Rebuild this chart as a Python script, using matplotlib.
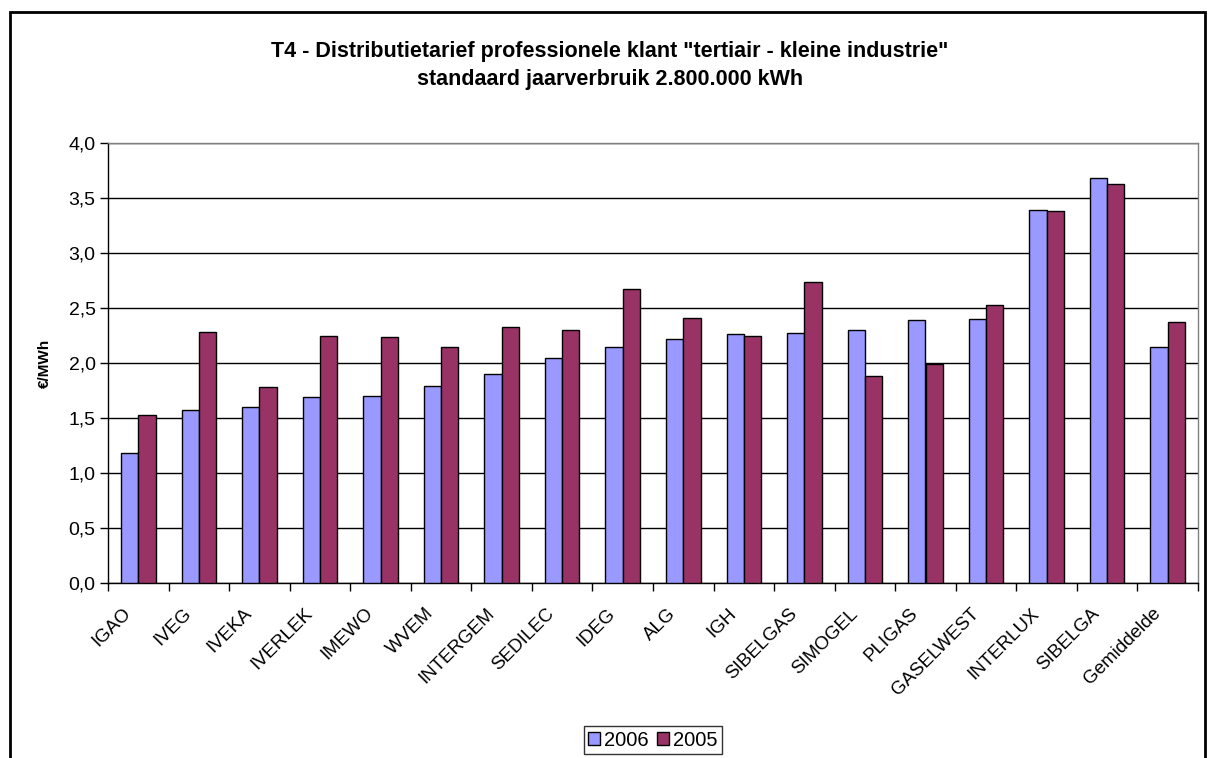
import numpy as np
import matplotlib.pyplot as plt
import matplotlib.transforms as mtransforms
from matplotlib.patches import Rectangle

plt.rcParams['font.family'] = ['Liberation Sans', 'DejaVu Sans']

# data (EUR/MWh)
categories = ["IGAO", "IVEG", "IVEKA", "IVERLEK", "IMEWO", "WVEM", "INTERGEM",
              "SEDILEC", "IDEG", "ALG", "IGH", "SIBELGAS", "SIMOGEL", "PLIGAS",
              "GASELWEST", "INTERLUX", "SIBELGA", "Gemiddelde"]
vals_2006 = [1.18, 1.57, 1.60, 1.69, 1.70, 1.79, 1.90, 2.05, 2.15, 2.22,
             2.26, 2.27, 2.30, 2.39, 2.40, 3.39, 3.68, 2.15]
vals_2005 = [1.53, 2.28, 1.78, 2.25, 2.24, 2.15, 2.33, 2.30, 2.67, 2.41,
             2.25, 2.74, 1.88, 1.99, 2.53, 3.38, 3.63, 2.37]
series_names = ["2006", "2005"]
yticks = [0.0, 0.5, 1.0, 1.5, 2.0, 2.5, 3.0, 3.5, 4.0]

W, H = 1208, 758
fig = plt.figure(figsize=(W / 100, H / 100), dpi=100)

# outer chart border (bottom edge runs off the image)
fig.patches.append(Rectangle((10 / W, -0.02), (1205 - 10) / W, 1 - 12 / H + 0.02,
                             transform=fig.transFigure, fill=False,
                             edgecolor="black", linewidth=2, clip_on=False))

ax = fig.add_axes([108 / W, 1 - 583 / H, 1090 / W, 440 / H])

x = np.arange(len(categories))
bw = 0.286
ax.bar(x - bw / 2, vals_2006, bw, color="#9999FF", edgecolor="black",
       linewidth=1, label=series_names[0], zorder=3)
ax.bar(x + bw / 2, vals_2005, bw, color="#993366", edgecolor="black",
       linewidth=1, label=series_names[1], zorder=3)

ax.set_xlim(-0.5, len(categories) - 0.5)
ax.set_ylim(0, 4.0)
ax.set_yticks(yticks)
ax.set_yticklabels([f"{v:.1f}".replace(".", ",") for v in yticks], fontsize=14)
ax.yaxis.grid(True, color="black", linewidth=1, zorder=0)
ax.set_axisbelow(True)

ax.set_xticks(x)
ax.set_xticklabels(categories, rotation=45, ha="right", va="center",
                   rotation_mode="anchor", fontsize=13.5)
ax.tick_params(axis="x", which="major", length=0, pad=0)
# nudge labels so their ends sit left of and below each group centre
shift = mtransforms.ScaledTranslation(-10 / 100, -28 / 100, fig.dpi_scale_trans)
for lbl in ax.get_xticklabels():
    lbl.set_transform(lbl.get_transform() + shift)
ax.set_xticks(np.arange(len(categories) + 1) - 0.5, minor=True)
ax.tick_params(axis="x", which="minor", length=6, width=1, direction="out")
ax.tick_params(axis="y", length=6, width=1, direction="out", pad=3)

for side in ["top", "right"]:
    ax.spines[side].set_color("#808080")
    ax.spines[side].set_linewidth(1)
for side in ["left", "bottom"]:
    ax.spines[side].set_color("black")
    ax.spines[side].set_linewidth(1)

ax.set_ylabel("€/MWh", fontsize=11, fontweight="bold", labelpad=12)

fig.text(610 / W, 1 - 52 / H,
         'T4 - Distributietarief professionele klant "tertiair - kleine industrie"',
         ha="center", va="center", fontsize=15.5, fontweight="bold")
fig.text(610 / W, 1 - 80 / H, "standaard jaarverbruik 2.800.000 kWh",
         ha="center", va="center", fontsize=15.5, fontweight="bold")

leg = fig.legend(loc="center", bbox_to_anchor=(653 / W, 1 - 740 / H),
                 ncol=2, fontsize=14.5, frameon=True, fancybox=False,
                 handlelength=0.6, handleheight=0.6, handletextpad=0.2,
                 columnspacing=0.4, borderpad=0.2, borderaxespad=0)
leg.get_frame().set_edgecolor("black")
leg.get_frame().set_linewidth(1)

fig.savefig("out.png", dpi=100)
